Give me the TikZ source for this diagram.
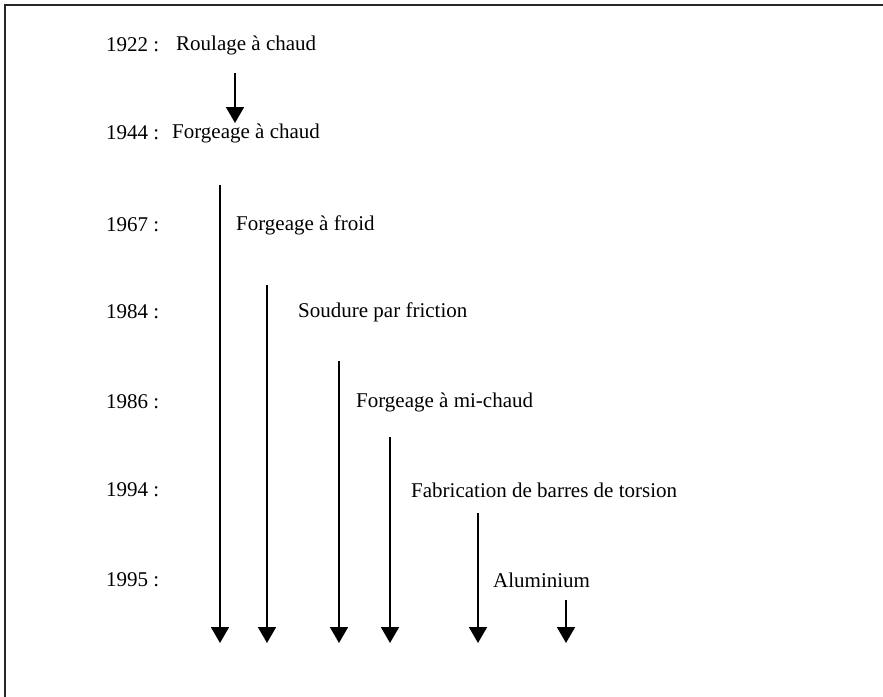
\documentclass[tikz,border=0pt]{standalone}
\usepackage{fontspec}
\setmainfont{Liberation Serif}
\usetikzlibrary{arrows.meta}
\begin{document}
\begin{tikzpicture}[x=1pt,y=-1pt,
  lbl/.style={anchor=west,inner sep=0pt,font=\fontsize{21}{24}\selectfont},
  flow/.style={line width=1.8pt,-{Triangle[width=18pt,length=16pt]}}]
\useasboundingbox (0,0) rectangle (883,696);
% frame, running off the right and bottom edges
\draw[line width=2.5pt,black!85] (5,5) rectangle (895,710);

% year column
\node[lbl] (y1922) at (106,45)  {1922 :};
\node[lbl] (y1944) at (106,133) {1944 :};
\node[lbl] (y1967) at (106,225) {1967 :};
\node[lbl] (y1984) at (106,312) {1984 :};
\node[lbl] (y1986) at (106,402) {1986 :};
\node[lbl] (y1994) at (106,490) {1994 :};
\node[lbl] (y1995) at (106,580) {1995 :};

% processes
\node[lbl] (roulage)  at (176,45)  {Roulage à chaud};
\node[lbl] (fchaud)   at (172,133) {Forgeage à chaud};
\node[lbl] (ffroid)   at (236,225) {Forgeage à froid};
\node[lbl] (soudure)  at (298,312) {Soudure par friction};
\node[lbl] (fmichaud) at (356,402) {Forgeage à mi-chaud};
\node[lbl] (torsion)  at (411,490) {Fabrication de barres de torsion};
\node[lbl] (alu)      at (493,580) {Aluminium};

% arrow ends
\coordinate (a0s) at (235,73);  \coordinate (a0e) at (235,123);
\coordinate (a1s) at (220,185); \coordinate (a1e) at (220,643);
\coordinate (a2s) at (267,285); \coordinate (a2e) at (267,643);
\coordinate (a3s) at (339,361); \coordinate (a3e) at (339,643);
\coordinate (a4s) at (390,437); \coordinate (a4e) at (390,643);
\coordinate (a5s) at (478,513); \coordinate (a5e) at (478,643);
\coordinate (a6s) at (566,600); \coordinate (a6e) at (566,643);

\draw[flow] (a0s) -- (a0e);
\draw[flow] (a1s) -- (a1e);
\draw[flow] (a2s) -- (a2e);
\draw[flow] (a3s) -- (a3e);
\draw[flow] (a4s) -- (a4e);
\draw[flow] (a5s) -- (a5e);
\draw[flow] (a6s) -- (a6e);
\end{tikzpicture}
\end{document}
